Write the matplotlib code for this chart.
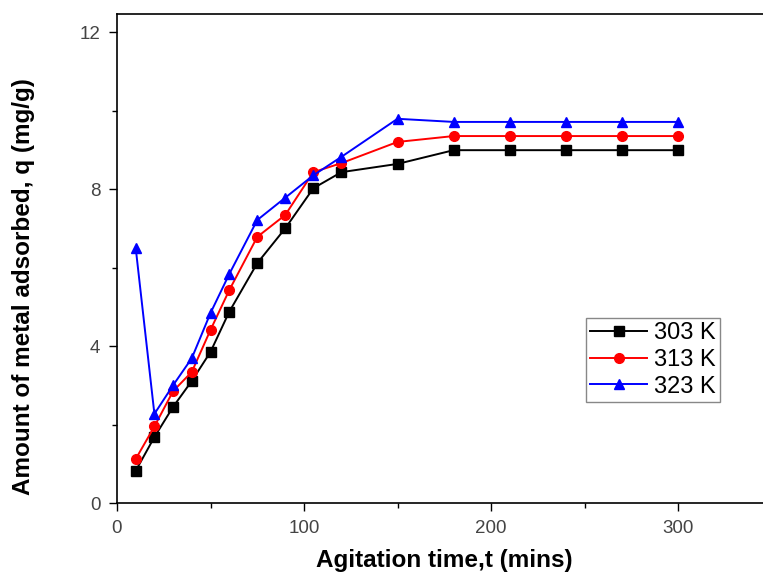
import matplotlib.pyplot as plt
from matplotlib.ticker import MultipleLocator

plt.rcParams['font.family'] = ['Liberation Sans', 'DejaVu Sans']

# agitation time (mins)
time_min = [10, 20, 30, 40, 50, 60, 75, 90, 105, 120, 150, 180, 210, 240, 270, 300]

# amount adsorbed q (mg/g)
q_303 = [0.82, 1.68, 2.45, 3.11, 3.85, 4.87, 6.11, 7.0, 8.02, 8.43, 8.64, 8.99, 8.99, 8.99, 8.99, 8.99]
q_313 = [1.12, 1.95, 2.85, 3.34, 4.41, 5.42, 6.78, 7.34, 8.43, 8.66, 9.2, 9.35, 9.35, 9.35, 9.35, 9.35]
q_323 = [6.5, 2.27, 3.0, 3.69, 4.84, 5.83, 7.21, 7.78, 8.35, 8.82, 9.79, 9.71, 9.71, 9.71, 9.71, 9.71]

labels = ["303 K", "313 K", "323 K"]

W, H = 763, 579
fig = plt.figure(figsize=(W / 100, H / 100), dpi=100)
# axes runs past the right edge of the image (right spine cut off)
ax = fig.add_axes([117 / W, 76 / H, 654.5 / W, 489 / H])

ax.plot(time_min, q_303, color="black", marker="s", markersize=6.5, lw=1.4, label=labels[0])
ax.plot(time_min, q_313, color="red", marker="o", markersize=7, lw=1.4, label=labels[1])
ax.plot(time_min, q_323, color="blue", marker="^", markersize=7.5, lw=1.4, label=labels[2])

ax.set_xlim(0, 350)
ax.set_ylim(0, 12.46)
ax.xaxis.set_major_locator(MultipleLocator(100))
ax.xaxis.set_minor_locator(MultipleLocator(50))
ax.yaxis.set_major_locator(MultipleLocator(4))
ax.yaxis.set_minor_locator(MultipleLocator(2))
ax.tick_params(which="major", direction="out", length=6, width=1, labelsize=13.5,
               labelcolor="#444444", pad=6)
ax.tick_params(which="minor", direction="out", length=3.5, width=1)
for s in ax.spines.values():
    s.set_linewidth(1.2)

ax.set_xlabel("Agitation time,t (mins)", fontsize=17.5, fontweight="bold", labelpad=9)
ax.set_ylabel("Amount of metal adsorbed, q (mg/g)", fontsize=17.5, fontweight="bold")
# label sits a bit below the axes centre in the original
ax.yaxis.set_label_coords(-0.125, 0.442)

leg = ax.legend(loc="upper left", bbox_to_anchor=(586 / W, 1 - 318 / H),
                bbox_transform=fig.transFigure, fontsize=17, fancybox=False,
                framealpha=1, edgecolor="#888888", borderaxespad=0,
                handlelength=2.4, handletextpad=0.3, labelspacing=0.2,
                borderpad=0.18)
leg.get_frame().set_linewidth(1)

fig.savefig("out.png", dpi=100)
